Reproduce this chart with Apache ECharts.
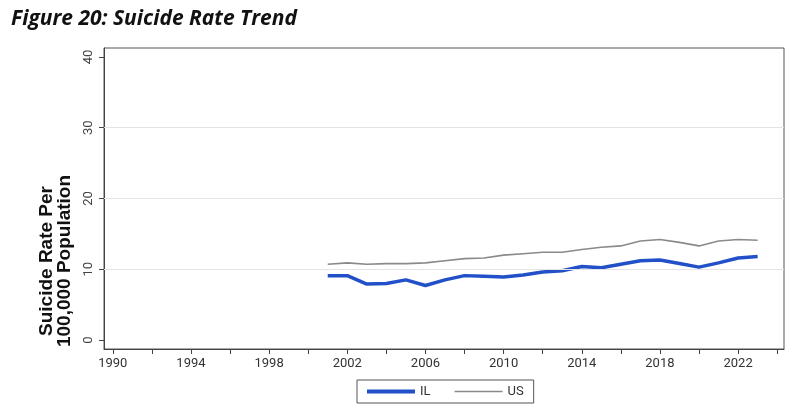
<!DOCTYPE html>
<html>
<head>
<meta charset="utf-8">
<script src="https://cdn.jsdelivr.net/npm/echarts@6/dist/echarts.min.js"></script>
<style>
  html, body { margin: 0; padding: 0; background: #fff; }
  #main { width: 800px; height: 410px; }
</style>
</head>
<body>
<div id="main"></div>
<script>
// Data
const years = [2001, 2002, 2003, 2004, 2005, 2006, 2007, 2008, 2009, 2010, 2011, 2012,
  2013, 2014, 2015, 2016, 2017, 2018, 2019, 2020, 2021, 2022, 2023]
const ilRate = [9.1, 9.1, 7.9, 8.0, 8.5, 7.7, 8.5, 9.1, 9.0, 8.9, 9.2, 9.6,
  9.8, 10.4, 10.2, 10.7, 11.2, 11.3, 10.8, 10.3, 10.9, 11.6, 11.8]
const usRate = [10.7, 10.9, 10.7, 10.8, 10.8, 10.9, 11.2, 11.5, 11.6, 12.0, 12.2, 12.4,
  12.4, 12.8, 13.1, 13.3, 14.0, 14.2, 13.8, 13.3, 14.0, 14.2, 14.1]
const xTicks = [1990, 1992, 1994, 1996, 1998, 2000, 2002, 2004, 2006, 2008, 2010, 2012,
  2014, 2016, 2018, 2020, 2022, 2024]
const xLabels = [1990, 1994, 1998, 2002, 2006, 2010, 2014, 2018, 2022]
const yTicks = [0, 10, 20, 30, 40]
const gridLines = [10, 20, 30]

const chart = echarts.init(document.getElementById('main'))

chart.setOption({
  animation: false,
  title: {
    text: 'Figure 20: Suicide Rate Trend',
    left: 6,
    top: 4,
    textStyle: {
      fontFamily: 'Open Sans',
      fontSize: 21,
      fontWeight: 'bold',
      fontStyle: 'italic',
      color: '#111'
    }
  },
  graphic: [
    {
      type: 'text',
      x: 56,
      y: 261,
      rotation: Math.PI / 2,
      style: {
        text: 'Suicide Rate Per\n100,000 Population',
        font: 'bold 19px "Liberation Sans", Arial, sans-serif',
        lineHeight: 18,
        fill: '#111',
        align: 'center',
        verticalAlign: 'middle'
      }
    }
  ],
  legend: {
    data: [
      { name: 'IL', icon: 'path://M0,0H48V4H0Z' },
      { name: 'US', icon: 'path://M0,0M0,1.2H48V2.8H0ZM48,4' }
    ],
    left: 357,
    top: 380,
    padding: [5, 10],
    borderColor: '#555',
    borderWidth: 1,
    borderRadius: 0,
    itemWidth: 48,
    itemHeight: 4,
    itemGap: 24,
    textStyle: { fontFamily: 'Roboto', fontSize: 13, color: '#333' }
  },
  grid: {
    left: 104,
    right: 16,
    top: 48,
    bottom: 61,
    show: true,
    borderColor: '#555',
    borderWidth: 1
  },
  xAxis: {
    type: 'value',
    min: 1989.55,
    max: 2024.35,
    axisLine: { show: true, onZero: false, lineStyle: { color: '#444' } },
    axisTick: { show: true, customValues: xTicks, length: 5, lineStyle: { color: '#444' } },
    axisLabel: {
      customValues: xLabels,
      formatter: v => String(v),
      margin: 8,
      fontFamily: 'Roboto',
      fontSize: 13,
      color: '#333'
    },
    splitLine: { show: false }
  },
  yAxis: {
    type: 'value',
    min: -1.27,
    max: 41.27,
    axisLine: { show: true, onZero: false, lineStyle: { color: '#444' } },
    axisTick: { show: true, customValues: yTicks, length: 5, lineStyle: { color: '#444' } },
    axisLabel: {
      customValues: yTicks,
      rotate: 90,
      margin: 9,
      fontFamily: 'Roboto',
      fontSize: 13,
      color: '#444'
    },
    splitLine: { show: false }
  },
  series: [
    {
      name: 'grid',
      type: 'line',
      data: [],
      z: 1,
      silent: true,
      markLine: {
        silent: true,
        symbol: 'none',
        label: { show: false },
        lineStyle: { color: '#e4e4e4', type: 'solid', width: 1 },
        data: gridLines.map(v => ({ yAxis: v }))
      }
    },
    {
      name: 'IL',
      type: 'line',
      z: 3,
      symbol: 'none',
      color: '#2150c8',
      lineStyle: { width: 3.5, color: '#2150c8' },
      data: years.map((y, i) => [y, ilRate[i]])
    },
    {
      name: 'US',
      type: 'line',
      z: 3,
      symbol: 'none',
      color: '#8a8a8a',
      lineStyle: { width: 1.6, color: '#8a8a8a' },
      data: years.map((y, i) => [y, usRate[i]])
    }
  ]
})
</script>
</body>
</html>
